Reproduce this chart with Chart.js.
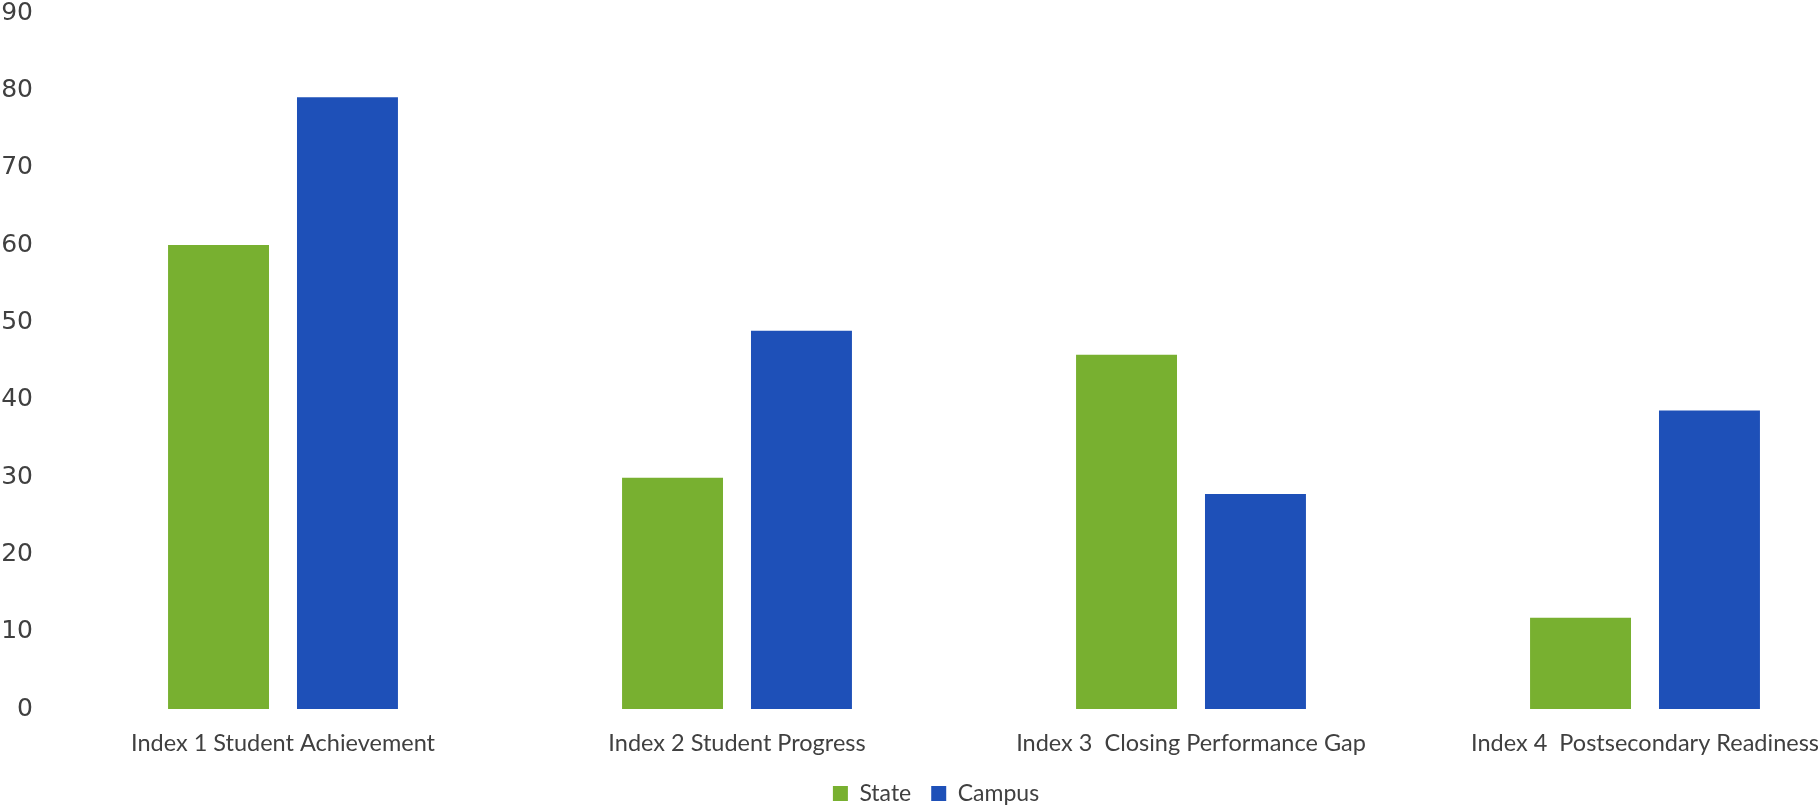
<!DOCTYPE html>
<html>
<head>
<meta charset="utf-8">
<script src="https://cdn.jsdelivr.net/npm/chart.js@4.4.1/dist/chart.umd.min.js"></script>
<style>
  html, body { margin: 0; padding: 0; background: #fff; overflow: hidden; }
  #wrap { width: 1898px; height: 815px; }
</style>
</head>
<body>
<div id="wrap"><canvas id="indexChart" width="1898" height="815"></canvas></div>
<script>
const categories = [
  'Index 1 Student Achievement',
  'Index 2 Student Progress',
  'Index 3  Closing Performance Gap',
  'Index 4  Postsecondary Readiness'
];
const stateValues = [60, 29.9, 45.8, 11.8];
const campusValues = [79.1, 48.9, 27.8, 38.6];
const yTicks = [0, 10, 20, 30, 40, 50, 60, 70, 80, 90];

const green = '#78b030';
const blue = '#1e50b8';
const textColor = '#404040';

const ctx = document.getElementById('indexChart').getContext('2d');

new Chart(ctx, {
  type: 'bar',
  data: {
    labels: categories,
    datasets: [
      { label: 'State', data: stateValues, backgroundColor: green },
      { label: 'Campus', data: campusValues, backgroundColor: blue }
    ]
  },
  options: {
    responsive: false,
    animation: false,
    categoryPercentage: 0.568,
    barPercentage: 0.783,
    layout: { padding: { top: 13, right: 26, bottom: 0, left: 0 } },
    scales: {
      x: {
        grid: { display: false, drawTicks: false },
        border: { display: false },
        ticks: {
          color: textColor,
          padding: 20,
          maxRotation: 0,
          autoSkip: false,
          font: { family: 'Lato', size: 23.5 }
        },
        afterFit: (scale) => {
          scale.height = 53;
          scale.paddingLeft = 0;
          scale.paddingRight = 0;
        }
      },
      y: {
        min: 0,
        max: 90,
        grid: { display: false, drawTicks: false },
        border: { display: false },
        afterBuildTicks: (scale) => {
          scale.ticks = yTicks.map(v => ({ value: v }));
        },
        ticks: {
          color: textColor,
          padding: 23,
          font: { family: 'DejaVu Sans', size: 25 }
        },
        afterFit: (scale) => {
          scale.width = 56;
          // keep the top label from pushing the plot down
          scale.paddingTop = 0;
          scale.paddingBottom = 0;
        }
      }
    },
    plugins: {
      legend: {
        position: 'bottom',
        labels: {
          color: textColor,
          boxWidth: 15,
          boxHeight: 15,
          padding: 20,
          font: { family: 'Lato', size: 23 }
        }
      },
      tooltip: { enabled: false }
    }
  }
});
</script>
</body>
</html>
